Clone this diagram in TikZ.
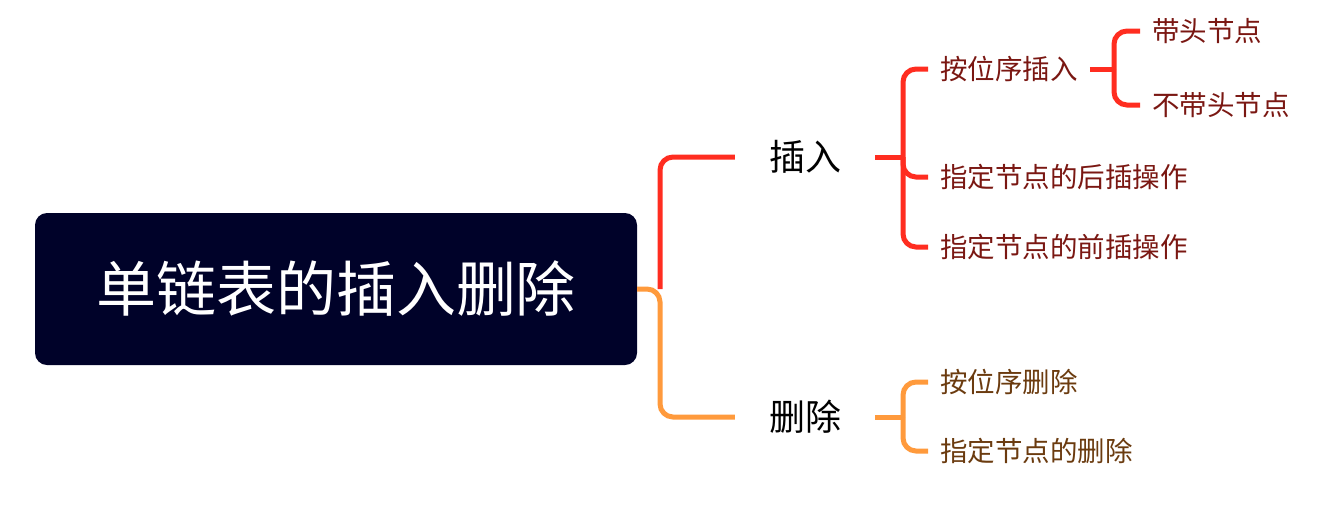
\documentclass[tikz,border=0pt]{standalone}
\usepackage{fontspec}
\setmainfont{Noto Sans CJK SC}
\definecolor{navy}{HTML}{000229}
\definecolor{linkred}{HTML}{FF2D20}
\definecolor{linkorange}{HTML}{FF9A3C}
\definecolor{textred}{HTML}{7A1712}
\definecolor{textbrown}{HTML}{6B3B0F}
\begin{document}
\begin{tikzpicture}[x=1pt,y=-1pt,
  link/.style={line width=5pt, rounded corners=13pt},
  redlink/.style={link, draw=linkred},
  orangelink/.style={link, draw=linkorange},
  rootbox/.style={fill=navy, rounded corners=12pt, minimum width=602pt,
    minimum height=152pt, inner sep=0pt, text=white,
    font=\fontsize{60}{60}\selectfont, text height=52.8pt, text depth=7.2pt},
  topic/.style={inner xsep=34pt, inner ysep=0pt, text=black,
    font=\fontsize{36}{36}\selectfont, text height=31.7pt, text depth=4.3pt},
  leaf/.style={anchor=west, inner xsep=12pt, inner ysep=0pt,
    font=\fontsize{27.5}{27.5}\selectfont, text height=24.2pt, text depth=3.3pt},
  leafred/.style={leaf, text=textred},
  leafbrown/.style={leaf, text=textbrown}]
\useasboundingbox (0,0) rectangle (1334,531);

% central topic
\node[rootbox] (root) at (336,289) {单链表的插入删除};

% main branches
\node[topic] (ins) at (805,157) {插入};
\node[topic] (del) at (805,417) {删除};

% insertion sub-topics
\node[leafred] (a1) at (928,69) {按位序插入};
\node[leafred] (a2) at (928,177) {指定节点的后插操作};
\node[leafred] (a3) at (928,247) {指定节点的前插操作};
\node[leafred] (b1) at (1140,31) {带头节点};
\node[leafred] (b2) at (1140,105) {不带头节点};

% deletion sub-topics
\node[leafbrown] (d1) at (928,382) {按位序删除};
\node[leafbrown] (d2) at (928,451) {指定节点的删除};

% junction points
\coordinate (j0) at (660,289);
\coordinate (j1) at (903,157);
\coordinate (j2) at (1114,69);
\coordinate (j3) at (903,417);

% root connectors
\draw[orangelink] (root.east) -- (j0) |- (del.west);
\draw[redlink] (j0) |- (ins.west);

% insertion connectors
\draw[redlink] (ins.east) -- (j1);
\draw[redlink] (j1) |- (a1.west);
\draw[redlink] (j1) |- (a2.west);
\draw[redlink] (j1) |- (a3.west);
\draw[redlink] (a1.east) -- (j2);
\draw[redlink] (j2) |- (b1.west);
\draw[redlink] (j2) |- (b2.west);

% deletion connectors
\draw[orangelink] (del.east) -- (j3);
\draw[orangelink] (j3) |- (d1.west);
\draw[orangelink] (j3) |- (d2.west);
\end{tikzpicture}
\end{document}
